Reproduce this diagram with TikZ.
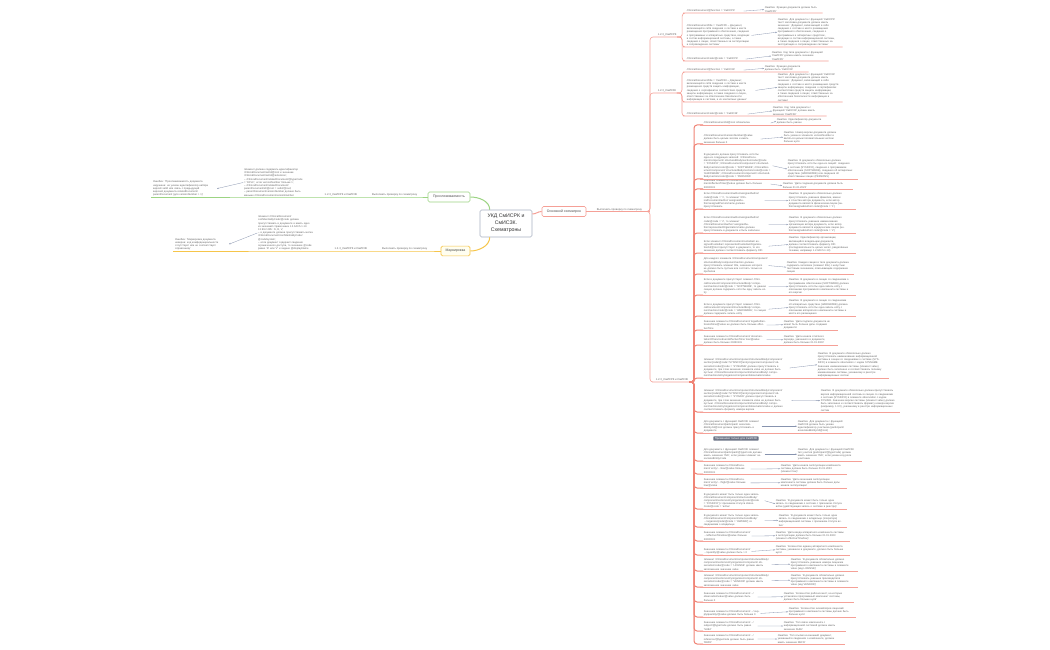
\documentclass[tikz,border=0pt]{standalone}
\usepackage{fontspec}
\setmainfont{Liberation Sans}
\usepackage{tikz}
\usetikzlibrary{arrows.meta, positioning}
\definecolor{redbr}{HTML}{F5A097}
\definecolor{redtr}{HTML}{F08476}
\definecolor{greenbr}{HTML}{9CD483}
\definecolor{yellowbr}{HTML}{F6C54A}
\definecolor{ctrline}{HTML}{A9B2C3}
\definecolor{notearr}{HTML}{8793AE}
\definecolor{txtgray}{HTML}{666666}
\definecolor{badgefill}{HTML}{6C7486}

\begin{document}
\begin{tikzpicture}[x=1pt, y=-1pt,
    rootbox/.style={draw=ctrline, line width=0.6pt, rounded corners=1.5pt, fill=white,
                    minimum width=52pt, minimum height=27pt, align=center,
                    font=\fontsize{5.2}{6.8}\selectfont, text=black!80},
    topbox/.style={draw=#1, line width=0.6pt, rounded corners=1.5pt, fill=white,
                   minimum height=9pt, inner xsep=2pt, font=\fontsize{3.5}{4}\selectfont, text=black!70},
    lbl/.style={font=\fontsize{2.7}{3.2}\selectfont, text=txtgray, inner sep=0.6pt},
    chk/.style={font=\fontsize{2.6}{3.2}\selectfont, text=txtgray, align=left,
                inner sep=0.6pt, anchor=south west, text width=#1},
    lchk/.style={chk=#1, anchor=south east},
    rln/.style={draw=redbr, line width=0.6pt},
    trunk/.style={rln, rounded corners=3pt},
    gln/.style={draw=greenbr, line width=0.8pt},
    yln/.style={draw=yellowbr, line width=0.8pt},
    hint/.style={draw=notearr, line width=0.3pt, -{Stealth[length=1.6pt, width=1.3pt]}},
    badge/.style={fill=badgefill, text=white, rounded corners=0.6pt,
                  font=\fontsize{2.8}{3.2}\selectfont, inner xsep=1.5pt, inner ysep=0.8pt},
]
\fill[white] (0,0) rectangle (1050,650);
\useasboundingbox (0,0) rectangle (1050,650);

\node[rootbox] (ctr) at (506,223.5) {УКД СмИСРК и\\СмИСЗК.\\Схематроны};
\node[topbox=redbr, minimum width=44pt] (osn) at (564,211.5) {Основной схематрон};
\node[topbox=greenbr, minimum width=42pt, minimum height=10pt] (pro) at (449,197) {Прослеживаемость};
\node[topbox=yellowbr, fill=yellow!6, minimum width=29pt, minimum height=8pt] (mark) at (455.5,251) {Маркировка};

\draw[gln, line width=1pt] ([xshift=10pt]ctr.north west) .. controls +(0,-9) and +(8,0) .. (pro.east);
\draw[yln, line width=1pt] ([xshift=10pt]ctr.south west) .. controls +(0,9) and +(8,0) .. (mark.east);
\draw[rln, line width=1pt] ([yshift=9.5pt]ctr.east) .. controls +(4,0) and +(-4,0) .. (osn.west);

% left: traceability
\node[lbl, anchor=south east] (runG) at (418,197) {Выполнить проверку по схематрону};
\node[lbl, anchor=south east] (g4) at (358,197) {1.2.3\_СмИСРК и СмИСЗК};
\node[lchk=62pt] (i4) at (307,197) {Элемент должен содержать идентификатор\\
  /ClinicalDocument/setId/@root и значение\\
  /ClinicalDocument/setId/@extension;\\
  – /ClinicalDocument/relatedDocument/@typeCode\\
  = 'RPLC', если versionNumber больше 1;\\
  – /ClinicalDocument/relatedDocument/\\
  parentDocument/id/@root = setId/@root;\\
  – parentDocument/versionNumber должно быть\\
  меньше /ClinicalDocument/versionNumber};
\node[lchk=63pt] (e4) at (217,197) {Ошибка: 'Прослеживаемость документа\\
  нарушена: не указан идентификатор набора\\
  версий setId или связь с предыдущей\\
  версией документа relatedDocument/\\
  parentDocument (для versionNumber > 1)'};
\draw[gln] (pro.west) -- (runG.south east) -- (g4.south east) -- (i4.south east) -- ([xshift=-1pt]e4.south west);
\draw[hint] (i4.west) -- (e4.east);

% left: marking
\node[lbl, anchor=south east] (runY) at (428,251) {Выполнить проверку по схематрону};
\node[lbl, anchor=south east] (g5) at (368,251) {1.2.3\_СмИСРК и СмИСЗК};
\node[lchk=63pt] (i5) at (322,251) {Элемент /ClinicalDocument/\\
  confidentialityCode/@code должен\\
  присутствовать в документе и иметь одно\\
  из значений справочника 1.2.643.5.1.13.\\
  13.99.2.285: N, R, V;\\
  – в документе должна присутствовать метка\\
  /ClinicalDocument/confidentialityCode/\\
  @codeSystem;\\
  – если документ содержит сведения\\
  ограниченного доступа, то значение @code\\
  равно 'R' или 'V' и задано @displayName};
\node[lchk=53pt] (e5) at (229,251) {Ошибка: 'Маркировка документа\\
  неверна: код конфиденциальности\\
  отсутствует или не соответствует\\
  справочнику'};
\draw[yln] (mark.west) -- (runY.south east) -- (g5.south east) -- (i5.south east) -- ([xshift=-1pt]e5.south west);
\draw[hint] (i5.west) -- (e5.east);

% right: main schematron
\node[lbl, anchor=south west] (runR) at (596,211.5) {Выполнить проверку по схематрону};
\coordinate (fork) at (650,211.5);
\node[lbl, anchor=south west] (g1) at (657,37) {1.2.3\_СмИСРК};
\node[lbl, anchor=south west] (g2) at (657,93) {1.2.3\_СмИСЗК};
\node[lbl, anchor=south west] (g3) at (655,382) {1.2.3\_СмИСРК и СмИСЗК};
\draw[rln] (osn.east) -- (runR.south west) -- (runR.south east) -- (fork);
\draw[trunk] (runR.south east) -- (fork) |- (g1.south west) -- (g1.south east);
\draw[trunk] (runR.south east) -- (fork) |- (g2.south west) -- (g2.south east);
\draw[trunk] (runR.south east) -- (fork) |- (g3.south west) -- (g3.south east);

\node[chk=56pt] (a1) at (686,13) {/ClinicalDocument/@function = 'СмИСРК'};
\node[chk=54pt] (e1) at (764,13) {Ошибка: Функция документа должна быть 'СмИСРК'};
\node[chk=64pt] (a2) at (686,47) {/ClinicalDocument/title = 'СмИСРК – Документ, включающий в себя сведения о составе и месте размещения программного обеспечения, сведения о программных и аппаратных средствах, входящих в состав информационной системы, а также сведения о лицах, ответственных за эксплуатацию и сопровождение системы'};
\node[chk=61pt] (e2) at (777,47) {Ошибка: Для документа с функцией 'СмИСРК' текст заголовка документа должен иметь значение: 'Документ, включающий в себя сведения о составе и месте размещения программного обеспечения, сведения о программных и аппаратных средствах, входящих в состав информационной системы, а также сведения о лицах, ответственных за эксплуатацию и сопровождение системы'};
\node[chk=58pt] (a3) at (686,61) {/ClinicalDocument/code/@code = 'СмИСРК'};
\node[chk=53pt] (e3) at (771,61) {Ошибка: Код типа документа с функцией 'СмИСРК' должен иметь значение 'СмИСРК'};

\node[chk=56pt] (b1) at (686,72) {/ClinicalDocument/@function = 'СмИСЗК'};
\node[chk=40pt] (f1) at (764,72) {Ошибка: Функция документа должна быть 'СмИСЗК'};
\node[chk=68pt] (b2) at (686,102) {/ClinicalDocument/title = 'СмИСЗК – Документ, включающий в себя сведения о составе и месте размещения средств защиты информации, сведения о сертификатах соответствия средств защиты информации, а также сведения о лицах, ответственных за обеспечение безопасности информации в системе, и их контактных данных'};
\node[chk=61pt] (f2) at (777,102) {Ошибка: Для документа с функцией 'СмИСЗК' текст заголовка документа должен иметь значение: 'Документ, включающий в себя сведения о составе и месте размещения средств защиты информации, сведения о сертификатах соответствия средств защиты информации, а также сведения о лицах, ответственных за обеспечение безопасности информации в системе'};
\node[chk=60pt] (b3) at (686,116) {/ClinicalDocument/code/@code = 'СмИСЗК'};
\node[chk=50pt] (f3) at (772,116) {Ошибка: Код типа документа с функцией 'СмИСЗК' должен иметь значение 'СмИСЗК'};

\foreach \i in {1,2,3}{
  \draw[trunk] (g1.south east) -- ++(5,0) |- (a\i.south west) -- ([xshift=3pt]e\i.south east);
  \draw[hint] (a\i.east) -- (e\i.west);
  \draw[trunk] (g2.south east) -- ++(5,0) |- (b\i.south west) -- ([xshift=3pt]f\i.south east);
  \draw[hint] (b\i.east) -- (f\i.west);
}

\node[chk=66pt] (c1) at (703,125) {/ClinicalDocument/id/@root обязателен};
\node[chk=50pt] (d1) at (776,125) {Ошибка: Идентификатор документа должен быть указан};
\node[chk=56pt] (c2) at (703,144) {/ClinicalDocument/versionNumber/@value должен быть целым числом и иметь значение больше 0};
\node[chk=56pt] (d2) at (783,144) {Ошибка: Номер версии документа должен быть указан в элементе versionNumber и являться целым положительным числом больше нуля};
\node[chk=68pt] (c3) at (703,179) {В документе должна присутствовать хотя бы одна из следующих записей: /ClinicalDocument/component/ structuredBody/section/code/@code = 'SYSINFO'; /ClinicalDocument/component/ structuredBody/section/code/@code = 'SOFTWARE'; /ClinicalDocument/component/ structuredBody/section/code/@code = 'HARDWARE'; /ClinicalDocument/component/ structuredBody/section/code/@code = 'PERSONS'};
\node[chk=66pt] (d3) at (787,179) {Ошибка: В документе обязательно должна присутствовать хотя бы одна из секций: сведения о системе (SYSINFO), сведения о программном обеспечении (SOFTWARE), сведения об аппаратных средствах (HARDWARE) или сведения об ответственных лицах (PERSONS)};
\node[chk=66pt] (c4) at (703,189) {Значение элемента /ClinicalDocument/effectiveTime/@value должно быть больше 20230101};
\node[chk=66pt] (d4) at (782,189) {Ошибка: 'Дата создания документа должна быть больше 01.01.2023'};
\node[chk=60pt] (c5) at (703,209) {Если /ClinicalDocument/author/assignedAuthor/ code/@code = '1', то элемент /ClinicalDocument/author/ assignedAuthor/assignedPerson/name должен присутствовать};
\node[chk=63pt] (d5) at (788,209) {Ошибка: В документе обязательно должно присутствовать указание фамилии, имени и отчества автора документа, если автор документа является физическим лицом (author/assignedAuthor/ code/@code = '1')};
\node[chk=64pt] (c6) at (703,233) {Если /ClinicalDocument/author/assignedAuthor/ code/@code = '2', то элемент /ClinicalDocument/author/ assignedAuthor/representedOrganization/name должен присутствовать в документе и быть заполнен};
\node[chk=63pt] (d6) at (788,233) {Ошибка: В документе обязательно должно присутствовать указание наименования организации автора документа, если автор документа является юридическим лицом (author/assignedAuthor/ code/@code = '2')};
\node[chk=64pt] (c7) at (703,253) {Если элемент /ClinicalDocument/custodian/ assignedCustodian/ representedCustodianOrganization/id/@root присутствует в документе, то его значение должно соответствовать формату OID};
\node[chk=63pt] (d7) at (788,253) {Ошибка: Идентификатор организации, являющейся владельцем документа, должен соответствовать формату OID (последовательность целых чисел, разделённых точками, например 1.2.643.5.1.13)};
\node[chk=64pt] (c8) at (703,274) {Для каждого элемента /ClinicalDocument/component/ structuredBody/component/section должен присутствовать элемент title, значение которого не должно быть пустым или состоять только из пробелов};
\node[chk=63pt] (d8) at (786,274) {Ошибка: Каждая секция в теле документа должна содержать заголовок (элемент title) с непустым текстовым значением, описывающим содержание секции};
\node[chk=64pt] (c9) at (703,295) {Если в документе присутствует элемент /ClinicalDocument/component/structuredBody/ component/section/code/@code = 'SOFTWARE', то данная секция должна содержать хотя бы одну запись entry};
\node[chk=63pt] (d9) at (788,295) {Ошибка: В документе в секции со сведениями о программном обеспечении (SOFTWARE) должна присутствовать хотя бы одна запись entry с описанием программного компонента системы и его версии};
\node[chk=64pt] (c10) at (703,316) {Если в документе присутствует элемент /ClinicalDocument/component/structuredBody/ component/section/code/@code = 'HARDWARE', то секция должна содержать запись entry};
\node[chk=63pt] (d10) at (788,316) {Ошибка: В документе в секции со сведениями об аппаратных средствах (HARDWARE) должна присутствовать хотя бы одна запись entry с описанием аппаратного компонента системы и места его размещения};
\node[chk=62pt] (c11) at (703,330) {Значение элемента /ClinicalDocument/ legalAuthenticator/time/@value не должно быть больше effectiveTime};
\node[chk=50pt] (d11) at (783,330) {Ошибка: 'Дата подписи документа не может быть больше даты создания документа'};
\node[chk=62pt] (c12) at (703,345) {Значение элемента /ClinicalDocument/ documentationOf/serviceEvent/effectiveTime/ low/@value должно быть больше 20230101};
\node[chk=50pt] (d12) at (783,345) {Ошибка: 'Дата начала отчётного периода, указанного в документе, должна быть больше 01.01.2023'};
\node[chk=85pt] (c13) at (703,378) {Элемент /ClinicalDocument/component/structuredBody/component/ section[code/@code='SYSINFO']/entry/organizer/component/ observation/code/@code = 'SYSNAME' должен присутствовать в документе, при этом значение элемента value не должно быть пустым: /ClinicalDocument/component/structuredBody/ component/section/entry/organizer/component/observation/value};
\node[chk=67pt] (d13) at (817,378) {Ошибка: В документе обязательно должно присутствовать наименование информационной системы в секции со сведениями о системе (SYSINFO) в элементе observation с кодом SYSNAME. Значение наименования системы (элемент value) должно быть заполнено и соответствовать полному наименованию системы, указанному в реестре информационных систем};
\node[chk=87pt] (c14) at (703,412) {Элемент /ClinicalDocument/component/structuredBody/component/ section[code/@code='SYSINFO']/entry/organizer/component/ observation/code/@code = 'SYSVER' должен присутствовать в документе, при этом значение элемента value не должно быть пустым: /ClinicalDocument/component/structuredBody/ component/section/entry/organizer/component/observation/value и должно соответствовать формату номера версии};
\node[chk=75pt] (d14) at (820,412) {Ошибка: В документе обязательно должна присутствовать версия информационной системы в секции со сведениями о системе (SYSINFO) в элементе observation с кодом SYSVER. Значение версии системы (элемент value) должно быть заполнено и соответствовать формату номера версии (например, 1.0.0), указанному в реестре информационных систем};
\node[chk=57pt] (c15) at (703,433) {Для документа с функцией СмИСЗК элемент /ClinicalDocument/participant/ associatedEntity/id/@root должен присутствовать в документе};
\node[chk=50pt] (d15) at (797,433) {Ошибка: Для документа с функцией СмИСЗК должен быть указан идентификатор участника (participant/ associatedEntity/id/@root)};
\node[badge] (tag16) at (736,438.5) {Применимо только для СмИСЗК};
\node[chk=60pt] (c16) at (703,461) {Для документа с функцией СмИСЗК элемент /ClinicalDocument/participant/@typeCode должен иметь значение 'IND', если указан элемент associatedEntity/code};
\node[chk=60pt] (d16) at (797,461) {Ошибка: Для документа с функцией СмИСЗК тип участия (participant/@typeCode) должен иметь значение 'IND', если указан код роли участника};
\node[chk=46pt] (c17) at (703,474) {Значение элемента /ClinicalDocument/ entry/…/low/@value больше 20230101};
\node[chk=62pt] (d17) at (780,474) {Ошибка: 'Дата начала эксплуатации компонента системы должна быть больше 01.01.2023 (элемент low)'};
\node[chk=46pt] (c18) at (703,488) {Значение элемента /ClinicalDocument/ entry/…/high/@value больше low/@value};
\node[chk=62pt] (d18) at (780,488) {Ошибка: 'Дата окончания эксплуатации компонента системы должна быть больше даты начала эксплуатации'};
\node[chk=60pt] (c19) at (703,509) {В документе может быть только одна запись /ClinicalDocument/component/structuredBody/ component/section/entry/organizer[code/@code = 'SYSINFO'] с признаком статуса statusCode/@code = 'active'};
\node[chk=67pt] (d19) at (775,509) {Ошибка: 'В документе может быть только одна запись со сведениями о системе с признаком статуса active (действующая запись о системе в реестре)'};
\node[chk=60pt] (c20) at (703,527) {В документе может быть только одна запись /ClinicalDocument/component/structuredBody/ …/organizer[code/@code = 'OWNER'] со сведениями о владельце};
\node[chk=64pt] (d20) at (778,527) {Ошибка: 'В документе может быть только одна запись со сведениями о владельце (операторе) информационной системы с признаком статуса active'};
\node[chk=47pt] (c21) at (703,541) {Значение элемента /ClinicalDocument/ …/effectiveTime/low/@value больше 20230101};
\node[chk=70pt] (d21) at (775,541) {Ошибка: 'Дата ввода аппаратного компонента системы в эксплуатацию должна быть больше 01.01.2023 (элемент effectiveTime/low)'};
\node[chk=47pt] (c22) at (703,555) {Значение элемента /ClinicalDocument/ …/quantity/@value должно быть > 0};
\node[chk=70pt] (d22) at (775,555) {Ошибка: 'Количество единиц аппаратного компонента системы, указанное в документе, должно быть больше нуля'};
\node[chk=67pt] (c23) at (703,571) {Элемент /ClinicalDocument/component/structuredBody/ component/section/entry/organizer/component/ observation/code/@code = 'LICENSE' должен иметь заполненное значение value};
\node[chk=63pt] (d23) at (790,571) {Ошибка: 'В документе обязательно должно присутствовать указание номера лицензии программного компонента системы в элементе value (код LICENSE)'};
\node[chk=67pt] (c24) at (703,587) {Элемент /ClinicalDocument/component/structuredBody/ component/section/entry/organizer/component/ observation/code/@code = 'VENDOR' должен иметь заполненное значение value};
\node[chk=63pt] (d24) at (790,587) {Ошибка: 'В документе обязательно должно присутствовать указание производителя программного компонента системы в элементе value (код VENDOR)'};
\node[chk=53pt] (c25) at (703,602) {Значение элемента /ClinicalDocument/…/ observation/value/@value должно быть больше 0};
\node[chk=66pt] (d25) at (783,602) {Ошибка: 'Количество рабочих мест, на которых установлен программный компонент системы, должно быть больше нуля'};
\node[chk=56pt] (c26) at (703,617) {Значение элемента /ClinicalDocument/…/ supply/quantity/@value должно быть больше 0};
\node[chk=63pt] (d26) at (788,617) {Ошибка: 'Количество экземпляров лицензий программного компонента системы должно быть больше нуля'};
\node[chk=53pt] (c27) at (703,631) {Значение элемента /ClinicalDocument/…/ subject/@typeCode должно быть равно 'SUBJ'};
\node[chk=58pt] (d27) at (783,631) {Ошибка: 'Тип связи компонента с информационной системой должен иметь значение SUBJ'};
\node[chk=53pt] (c28) at (703,644) {Значение элемента /ClinicalDocument/…/ reference/@typeCode должно быть равно 'REFR'};
\node[chk=63pt] (d28) at (777,644) {Ошибка: 'Тип ссылки на внешний документ, указанный в сведениях о компоненте, должен иметь значение REFR'};

\foreach \i in {1,...,28}{
  \draw[trunk, draw=redtr, line width=1pt] (g3.south east) -- ++(5,0) |- (c\i.south west);
  \draw[rln] ([xshift=-3pt]c\i.south west) -- ([xshift=3pt]d\i.south east);
  \draw[hint] (c\i.east) -- (d\i.west);
}
\end{tikzpicture}
\end{document}
